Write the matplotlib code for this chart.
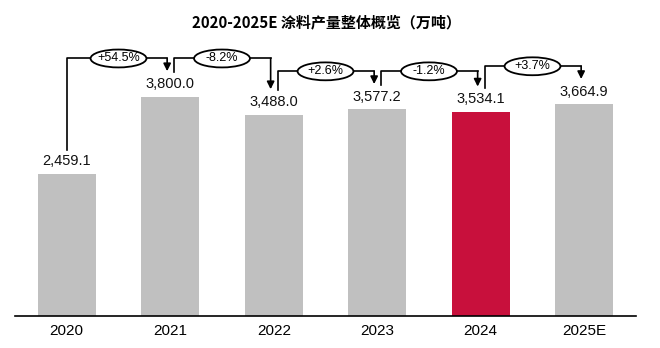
import matplotlib
matplotlib.use("Agg")
import matplotlib.pyplot as plt
from matplotlib.patches import Ellipse

plt.rcParams['font.family'] = ['Liberation Sans', 'Noto Sans CJK SC', 'DejaVu Sans']

years = ["2020", "2021", "2022", "2023", "2024", "2025E"]
output = [2459.1, 3800.0, 3488.0, 3577.2, 3534.1, 3664.9]
colors = ["#c0c0c0", "#c0c0c0", "#c0c0c0", "#c0c0c0", "#c8103c", "#c0c0c0"]
title = "2020-2025E 涂料产量整体概览（万吨）"

fig = plt.figure(figsize=(6.6, 3.48), dpi=100)
ax = fig.add_axes([15 / 660, 32 / 348, 621 / 660, 276 / 348])

x = list(range(len(years)))
ax.bar(x, output, width=0.56, color=colors, zorder=2)
ax.set_xlim(-0.5, 5.5)
ax.set_ylim(0, 4780)

for xi, v in zip(x, output):
    ax.annotate(f"{v:,.1f}", (xi, v), xytext=(0, 4), textcoords="offset points",
                ha="center", va="bottom", fontsize=10.5, color="#111111")

# growth arrows between neighbouring years
gap = 440
for i in range(len(output) - 1):
    v0, v1 = output[i], output[i + 1]
    x0 = i + (0 if i == 0 else 0.04)
    x1 = i + 1 - 0.03
    top = max(v0, v1) + 660
    ax.plot([x0, x0, x1], [v0 + gap - 20, top, top], color="black", lw=1.2, zorder=3)
    ax.annotate("", xy=(x1, v1 + gap), xytext=(x1, top),
                arrowprops=dict(arrowstyle="-|>", color="black", lw=1.2,
                                mutation_scale=11, shrinkA=0, shrinkB=0), zorder=3)
    pct = (v1 / v0 - 1) * 100
    xm = (i + i + 1) / 2
    ax.add_patch(Ellipse((xm, top), 0.54, 310, facecolor="white",
                         edgecolor="black", lw=1.3, zorder=4))
    ax.text(xm, top, f"{pct:+.1f}%", ha="center", va="center",
            fontsize=9, zorder=5)

ax.set_xticks(x)
ax.set_xticklabels(years, fontsize=11)
ax.tick_params(axis="x", length=0, pad=6)
ax.set_yticks([])
for s in ["top", "right", "left"]:
    ax.spines[s].set_visible(False)
ax.spines["bottom"].set_linewidth(1.2)

fig.text(0.494, 1 - 22 / 348, title, ha="center", va="center", fontsize=10.8,
         fontweight="bold", family=['Noto Sans CJK SC', 'DejaVu Sans'])

fig.savefig("out.png", dpi=100)
